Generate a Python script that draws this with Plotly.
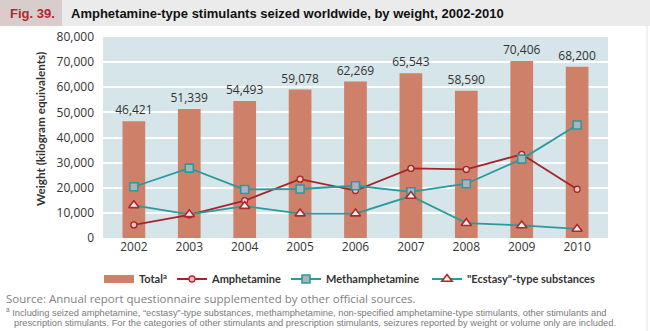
import plotly.graph_objects as go

years = ["2002", "2003", "2004", "2005", "2006", "2007", "2008", "2009", "2010"]
total = [46421, 51339, 54493, 59078, 62269, 65543, 58590, 70406, 68200]
amphetamine = [5200, 9200, 14900, 23400, 18900, 27700, 27300, 33300, 19400]
methamphetamine = [20400, 27800, 19300, 19500, 20800, 18400, 21600, 31400, 45000]
ecstasy = [13000, 9400, 12700, 9700, 9700, 16700, 5900, 5000, 3600]
total_labels = [f"{v:,}" for v in total]

FONT = "Open Sans, Liberation Sans, sans-serif"
TFONT = "Liberation Sans, Arial, sans-serif"
LFONT = "Lato, Liberation Sans, sans-serif"

BAR = "#cf8069"
RED = "#a8232b"
TEAL = "#2b9a9d"

W, L, R, T, B = 650, 103, 42, 37, 93
PW = W - L - R
PH = 331 - T - B


def px(x):
    return (x - L) / PW


def py(y):
    return (331 - B - y) / PH


fig = go.Figure()
fig.add_trace(go.Bar(
    x=years, y=total, name="Total<sup>a</sup>", showlegend=False,
    marker=dict(color=BAR, line=dict(width=0)),
    text=total_labels, textposition="outside", constraintext="none",
    textfont=dict(size=12, color="#333333", family=FONT),
    cliponaxis=False,
))
fig.add_trace(go.Scatter(
    x=[None], y=[None], name="Total<sup>a</sup>", mode="lines",
    line=dict(color=BAR, width=8), legend="legend",
))
fig.add_trace(go.Scatter(
    x=years, y=amphetamine, name="Amphetamine", mode="lines+markers",
    line=dict(color=RED, width=1.8), legend="legend2",
    marker=dict(symbol="circle", size=6, color="#f0c8c0", line=dict(color=RED, width=1.3)),
))
fig.add_trace(go.Scatter(
    x=years, y=methamphetamine, name="Methamphetamine", mode="lines+markers",
    line=dict(color=TEAL, width=1.8), legend="legend3",
    marker=dict(symbol="square", size=8, color="#aab5bb", line=dict(color=TEAL, width=1.6)),
))
fig.add_trace(go.Scatter(
    x=years, y=ecstasy, name="\"Ecstasy\"-type substances", mode="lines+markers",
    line=dict(color=TEAL, width=1.8), legend="legend4",
    marker=dict(symbol="triangle-up", size=9, color="#f4f0ee", line=dict(color="#b0262e", width=1.6)),
))

leg_font = dict(family=LFONT, size=11, color="#333333", weight="bold")


def leg(x_line_start):
    return dict(
        orientation="h", x=px(x_line_start - 6), y=py(279), xanchor="left", yanchor="middle",
        font=leg_font, bgcolor="rgba(0,0,0,0)", borderwidth=0,
    )


fig.update_layout(
    width=W, height=331,
    margin=dict(l=L, r=R, t=T, b=B),
    paper_bgcolor="white", plot_bgcolor="#d5e5e9",
    font=dict(family=FONT, size=12, color="#333333"),
    bargap=0.59,
    showlegend=True,
    legend=leg(105),
    legend2=leg(178),
    legend3=leg(292),
    legend4=leg(433),
    xaxis=dict(
        showgrid=False, ticks="", showline=False,
        tickfont=dict(size=12, color="#333333"),
    ),
    yaxis=dict(
        range=[0, 80000], dtick=10000, tickformat=",d",
        gridcolor="white", gridwidth=1.5, zeroline=False,
        tickfont=dict(size=12, color="#333333"), ticks="", ticklabelstandoff=8,
    ),
    shapes=[
        dict(type="rect", xref="paper", yref="paper",
             x0=px(0), x1=px(650), y0=py(26), y1=py(0),
             fillcolor="#ebebeb", line=dict(width=0), layer="below"),
        dict(type="rect", xref="paper", yref="paper",
             x0=px(0), x1=px(62), y0=py(26), y1=py(0),
             fillcolor="#d8cccc", line=dict(width=0), layer="below"),
        dict(type="line", xref="paper", yref="paper",
             x0=px(647), x1=px(647), y0=py(26), y1=py(331),
             line=dict(color="#e4e4e4", width=1)),
    ],
    annotations=[
        dict(text="<b>Fig. 39.</b>", xref="paper", yref="paper",
             x=px(8), y=py(13), xanchor="left", yanchor="middle",
             showarrow=False, font=dict(family=TFONT, size=13, color="#b3262e")),
        dict(text="<b>Amphetamine-type stimulants seized worldwide, by weight, 2002-2010</b>",
             xref="paper", yref="paper",
             x=px(69), y=py(13), xanchor="left", yanchor="middle",
             showarrow=False, font=dict(family=TFONT, size=13, color="#111111")),
        dict(text="<b>Weight (kilogram equivalents)</b>", xref="paper", yref="paper",
             x=px(40), y=py(129), xanchor="center", yanchor="middle",
             textangle=-90, showarrow=False, font=dict(family=LFONT, size=11.7, color="#333333")),
        dict(text="Source: Annual report questionnaire supplemented by other official sources.",
             xref="paper", yref="paper",
             x=px(4), y=py(298), xanchor="left", yanchor="middle",
             showarrow=False, font=dict(family=FONT, size=11.5, color="#7f7f7f")),
        dict(text="<sup>a</sup> Including seized amphetamine, \u201cecstasy\u201d-type substances, methamphetamine, non-specified amphetamine-type stimulants, other stimulants and",
             xref="paper", yref="paper",
             x=px(4), y=py(312), xanchor="left", yanchor="middle",
             showarrow=False, font=dict(family=TFONT, size=9.3, color="#7a7a7a")),
        dict(text="prescription stimulants. For the categories of other stimulants and prescription stimulants, seizures reported by weight or volume only are included.",
             xref="paper", yref="paper",
             x=px(12), y=py(323), xanchor="left", yanchor="middle",
             showarrow=False, font=dict(family=TFONT, size=9.3, color="#7a7a7a")),
    ],
)

fig.write_html("out.html")
